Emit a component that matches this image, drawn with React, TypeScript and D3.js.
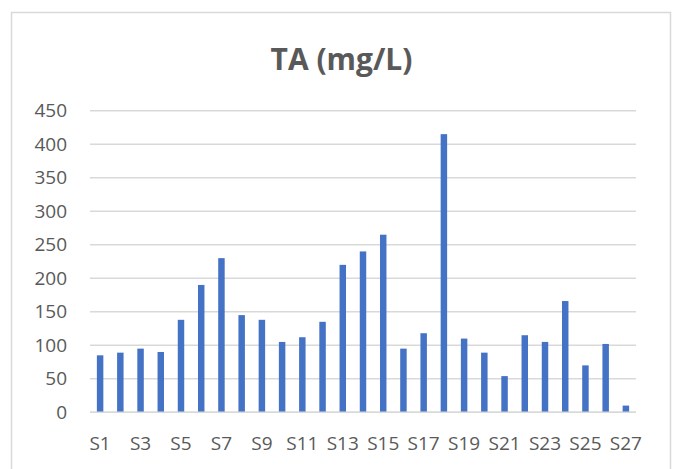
import React from "react";
import * as d3 from "d3";

const categories: string[] = Array.from({ length: 27 }, (_, i) => `S${i + 1}`);
const values: number[] = [85, 89, 95, 90, 138, 190, 230, 145, 138, 105, 112, 135, 220, 240, 265, 95, 118, 415, 110, 89, 54, 115, 105, 166, 70, 102, 10];
const yTicks: number[] = [0, 50, 100, 150, 200, 250, 300, 350, 400, 450];
const title = "TA (mg/L)";

const W = 676;
const H = 469;
const FONT = "'Open Sans', 'Liberation Sans', sans-serif";

export default function App() {
  const x = d3
    .scaleBand<string>()
    .domain(categories)
    .range([90, 636])
    .paddingInner(0.68)
    .paddingOuter(0.34);
  const y = d3.scaleLinear().domain([0, 450]).range([412.3, 110.7]);

  return (
    <svg
      width={W}
      height={H}
      style={{ position: "fixed", left: 0, top: 0, background: "#fff" }}
    >
      <rect x={0} y={0} width={W} height={H} fill="#fff" />
      <rect x={11.5} y={12.5} width={659} height={470} fill="#fff" stroke="#D9D9D9" strokeWidth={1.5} />
      <text
        x={341.5}
        y={70}
        textAnchor="middle"
        fontFamily={FONT}
        fontWeight="bold"
        fontSize={30}
        fill="#595959"
      >
        {title}
      </text>
      {yTicks.map((t) => (
        <g key={t}>
          <line x1={90} x2={636} y1={y(t)} y2={y(t)} stroke="#D9D9D9" strokeWidth={1.5} />
          <text
            x={67}
            y={y(t)}
            dy="0.35em"
            textAnchor="end"
            fontFamily={FONT}
            fontSize={19}
            fill="#595959"
          >
            {t}
          </text>
        </g>
      ))}
      {categories.map((c, i) => (
        <rect
          key={c}
          x={x(c)}
          y={y(values[i])}
          width={x.bandwidth()}
          height={y(0) - y(values[i])}
          fill="#4472C4"
        />
      ))}
      <line x1={90} x2={636} y1={y(0)} y2={y(0)} stroke="#D9D9D9" strokeWidth={1.5} />
      {categories.map((c, i) =>
        i % 2 === 0 ? (
          <text
            key={c}
            x={(x(c) as number) + x.bandwidth() / 2}
            y={450}
            textAnchor="middle"
            fontFamily={FONT}
            fontSize={19}
            fill="#595959"
          >
            {c}
          </text>
        ) : null
      )}
    </svg>
  );
}
